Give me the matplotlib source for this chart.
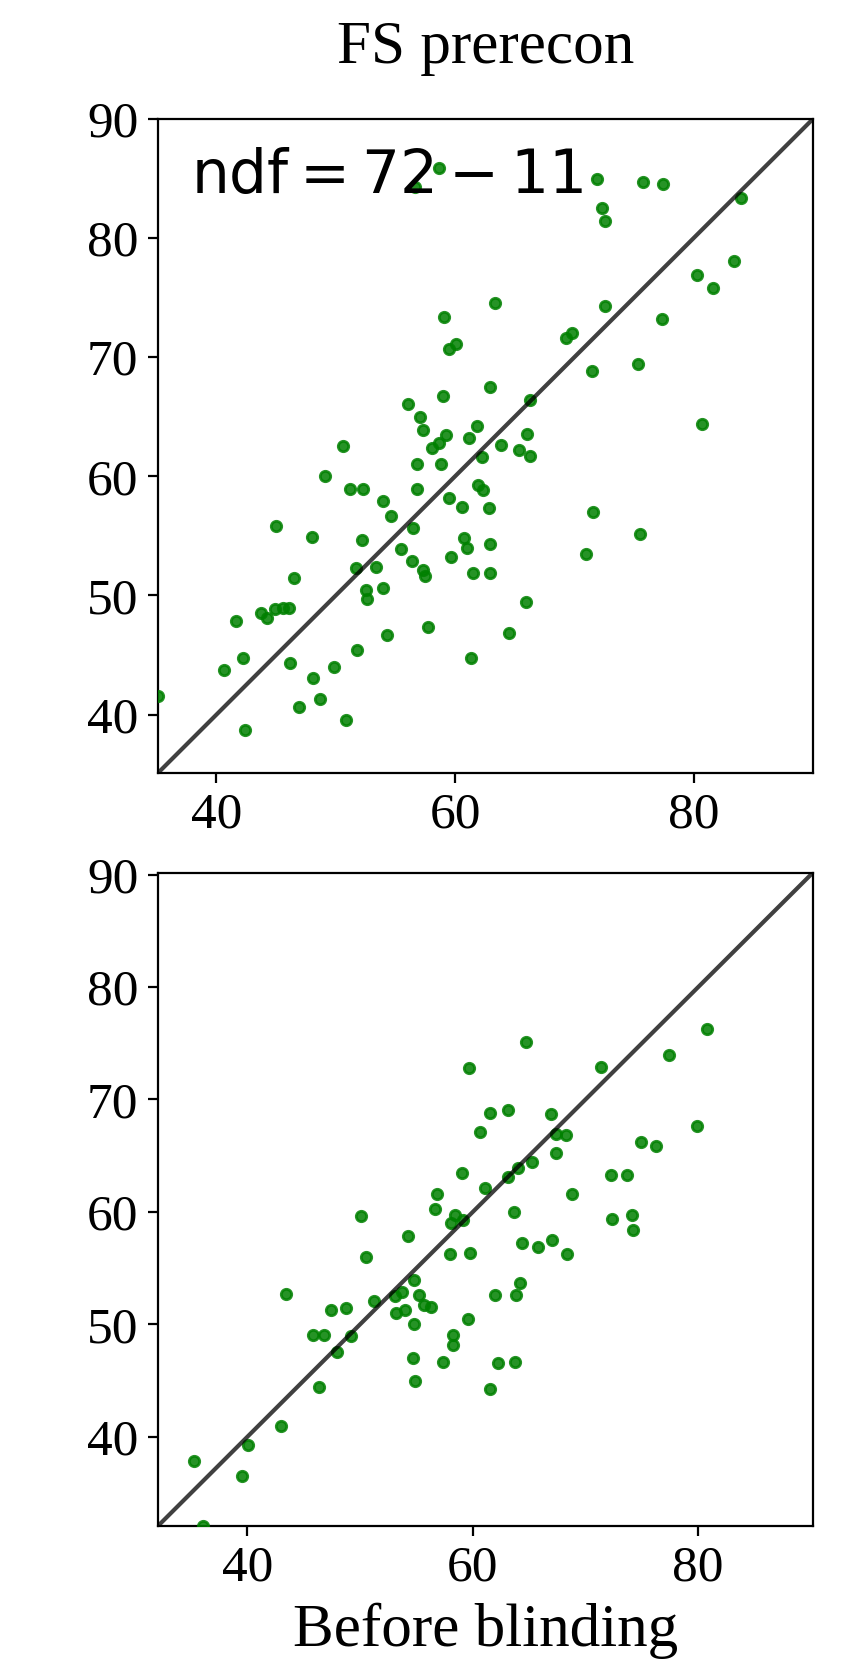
import numpy as np
import matplotlib
matplotlib.use("Agg")
import matplotlib.pyplot as plt

plt.rcParams['font.family'] = ['Liberation Serif', 'DejaVu Serif']

# top panel: before blinding (x) vs after (y)
top_x = [58.66, 56.65, 71.91, 75.79, 77.46, 72.36, 72.61, 83.93, 83.40, 80.28,
         81.59, 63.35, 72.61, 59.05, 77.32, 69.79, 69.31, 60.06, 59.47, 75.37,
         71.46, 62.96, 59.03, 66.25, 56.04, 57.07, 80.67, 61.87, 57.35, 66.00,
         59.25, 61.17, 58.63, 63.85, 50.60, 58.05, 65.33, 66.30, 62.29, 56.79,
         58.85, 49.10, 61.95, 51.16, 52.25, 56.79, 62.34, 59.50, 53.95, 60.56,
         62.82, 71.57, 54.62, 45.00, 56.51, 75.52, 48.03, 60.78, 52.22, 62.93,
         61.00, 55.51, 70.99, 59.69, 56.35, 53.41, 51.69, 57.35, 61.48, 62.93,
         57.46, 46.47, 53.97, 52.55, 52.64, 65.97, 45.58, 46.08, 44.91, 43.74,
         44.21, 41.67, 57.74, 64.52, 54.28, 51.74, 61.34, 42.20, 46.19, 49.87,
         40.67, 48.06, 35.10, 48.70, 46.95, 50.90, 42.40]
top_y = [85.86, 84.26, 84.93, 84.73, 84.54, 82.49, 81.46, 83.39, 78.04, 76.92,
         75.77, 74.56, 74.26, 73.39, 73.19, 72.04, 71.62, 71.07, 70.65, 69.44,
         68.88, 67.48, 66.75, 66.39, 66.08, 65.01, 64.43, 64.23, 63.89, 63.59,
         63.50, 63.22, 62.77, 62.61, 62.55, 62.38, 62.24, 61.74, 61.62, 61.03,
         61.03, 60.03, 59.24, 58.96, 58.96, 58.91, 58.88, 58.15, 57.93, 57.45,
         57.34, 57.03, 56.70, 55.80, 55.63, 55.13, 54.93, 54.79, 54.68, 54.31,
         53.95, 53.87, 53.45, 53.25, 52.92, 52.35, 52.33, 52.10, 51.91, 51.91,
         51.62, 51.43, 50.62, 50.45, 49.72, 49.41, 48.93, 48.93, 48.85, 48.49,
         48.12, 47.82, 47.37, 46.89, 46.72, 45.44, 44.79, 44.71, 44.29, 44.03,
         43.76, 43.05, 41.60, 41.34, 40.61, 39.58, 38.71]

# bottom panel
bot_x = [80.77, 64.68, 77.42, 71.35, 59.64, 63.15, 61.51, 66.93, 79.91, 60.62,
         67.41, 68.30, 74.93, 76.27, 67.38, 65.24, 64.00, 59.08, 72.24, 73.69,
         63.11, 61.04, 56.86, 68.80, 56.62, 63.64, 74.17, 58.46, 50.08, 72.39,
         59.11, 58.08, 74.23, 54.22, 67.00, 64.39, 65.78, 59.73, 58.02, 68.39,
         50.55, 54.79, 64.15, 53.69, 43.41, 55.24, 61.99, 63.80, 53.13, 51.20,
         55.64, 56.30, 48.77, 47.44, 53.96, 53.22, 59.56, 54.76, 45.81, 46.79,
         58.20, 49.16, 58.20, 47.97, 54.73, 63.77, 57.40, 62.26, 54.91, 46.35,
         61.57, 43.02, 40.03, 35.29, 39.53, 36.10]
bot_y = [76.29, 75.08, 73.92, 72.92, 72.83, 69.09, 68.83, 68.71, 67.61, 67.08,
         66.96, 66.84, 66.25, 65.89, 65.24, 64.47, 63.91, 63.49, 63.32, 63.29,
         63.14, 62.13, 61.60, 61.60, 60.29, 60.00, 59.76, 59.73, 59.61, 59.34,
         59.29, 59.05, 58.40, 57.89, 57.51, 57.24, 56.92, 56.38, 56.29, 56.23,
         55.96, 53.98, 53.65, 52.92, 52.71, 52.62, 52.62, 52.65, 52.53, 52.09,
         51.70, 51.58, 51.47, 51.25, 51.25, 50.99, 50.49, 50.01, 49.07, 49.07,
         49.07, 49.00, 48.12, 47.56, 47.03, 46.69, 46.61, 46.55, 45.00, 44.47,
         44.27, 41.00, 39.26, 37.87, 36.53, 32.10]

top_lim = (35.1, 90.0)
bot_lim = (32.07, 90.18)

fig = plt.figure(figsize=(4.22, 8.4), dpi=200)
ax1 = fig.add_axes([0.1872, 0.5399, 0.776, 0.3893])
ax2 = fig.add_axes([0.1872, 0.0917, 0.776, 0.3889])

for ax, x, y, lim in [(ax1, top_x, top_y, top_lim), (ax2, bot_x, bot_y, bot_lim)]:
    ax.scatter(x, y, s=14, color='green', alpha=0.85, zorder=3)
    ax.plot(lim, lim, color='k', alpha=0.75, lw=1.5, zorder=4)
    ax.set_xlim(lim)
    ax.set_ylim(lim)
    ax.set_xticks([40, 60, 80])
    ax.set_yticks([40, 50, 60, 70, 80, 90])
    ax.tick_params(labelsize=18.5)

ax1.set_title("FS prerecon", fontsize=22, pad=20)
ax1.text(0.05, 0.95, r"$\mathrm{ndf} = 72 - 11$", transform=ax1.transAxes,
         fontsize=21.5, va='top', ha='left')
ax2.set_xlabel("Before blinding", fontsize=22)

fig.savefig("out.png", dpi=200)
